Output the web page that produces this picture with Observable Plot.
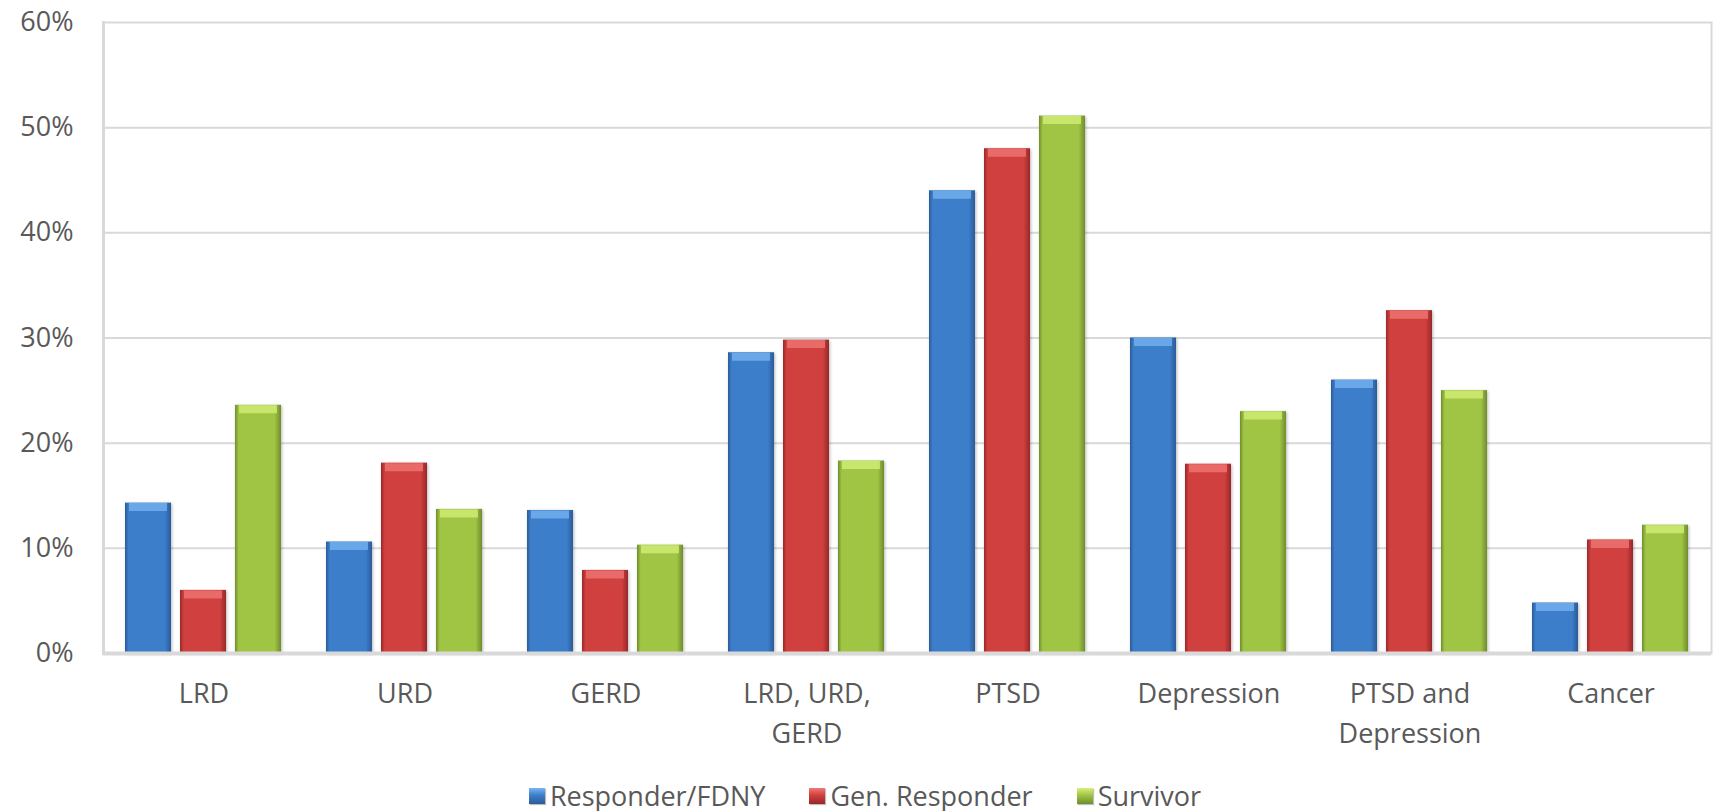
<!DOCTYPE html>
<html>
<head>
<meta charset="utf-8">
<script src="https://cdn.jsdelivr.net/npm/d3@7"></script>
<script src="https://cdn.jsdelivr.net/npm/@observablehq/plot@0.6"></script>
<style>
  html, body { margin: 0; padding: 0; background: #fff; }
  body { width: 1718px; height: 811px; overflow: hidden; font-family: "Open Sans", sans-serif; }
  #chart svg { display: block; }
  #chart svg g[aria-label="bar"] rect { filter: drop-shadow(1.5px 1px 1.5px rgba(0,0,0,0.28)); }
  #legend { display: flex; justify-content: center; align-items: center; gap: 44px; margin-top: 8px; padding-left: 12px;
            font-size: 27px; line-height: 36px; color: #595959; }
  #legend .item { display: flex; align-items: center; gap: 5px; }
  #legend .sw { width: 16px; height: 16px; display: inline-block; box-shadow: 1px 1px 1px rgba(0,0,0,0.25); }
</style>
</head>
<body>
<div id="chart"></div>
<div id="legend"></div>
<script>
// ---- data ----
const categories = ["LRD", "URD", "GERD", "LRD, URD,\nGERD", "PTSD", "Depression", "PTSD and\nDepression", "Cancer"];
const series = ["Responder/FDNY", "Gen. Responder", "Survivor"];
const responderFDNY = [14.3, 10.6, 13.6, 28.6, 44.0, 30.0, 26.0, 4.8];
const genResponder  = [6.0, 18.1, 7.9, 29.8, 48.0, 18.0, 32.6, 10.8];
const survivor      = [23.6, 13.7, 10.3, 18.3, 51.1, 23.0, 25.0, 12.2];
const yTicks = [0, 10, 20, 30, 40, 50, 60];
const seriesValues = [responderFDNY, genResponder, survivor];

const seriesStyle = [
  {id: "gB", edge: "#2b5b98", mid: "#3d7ecb", top: "#79b6f2"},
  {id: "gR", edge: "#982828", mid: "#d0403f", top: "#f27a78"},
  {id: "gG", edge: "#6f8d2b", mid: "#a0c545", top: "#d6f07a"}
];

const rows = [];
series.forEach((s, si) => categories.forEach((c, ci) => rows.push({category: c, series: s, value: seriesValues[si][ci]})));

const grid = "#d9d9d9";
const marks = [
  Plot.ruleY(yTicks.filter(d => d > 0), {stroke: grid, strokeWidth: 2}),
  Plot.frame({anchor: "left", facetAnchor: "left", stroke: grid, strokeWidth: 3}),
  Plot.frame({anchor: "right", facetAnchor: "right", stroke: grid, strokeWidth: 2})
];
series.forEach((s, si) => {
  const data = rows.filter(d => d.series === s);
  marks.push(Plot.barY(data, {fx: "category", x: "series", y: "value", fill: `url(#${seriesStyle[si].id})`}));
  marks.push(Plot.tickY(data, {fx: "category", x: "series", y: "value", stroke: seriesStyle[si].top, strokeWidth: 8, dy: 4, inset: 4, strokeOpacity: 0.75}));
});
marks.push(
  Plot.ruleY([0], {stroke: grid, strokeWidth: 4}),
  Plot.axisY({ticks: yTicks, tickSize: 0, tickPadding: 30, tickFormat: d => d + "%", fontSize: 27, fill: "#595959", label: null}),
  Plot.axisFx({anchor: "bottom", tickSize: 0, tickPadding: 21, fontSize: 27, lineHeight: 1.48, fill: "#595959", label: null})
);

const chart = Plot.plot({
  width: 1718,
  height: 770,
  marginLeft: 100,
  marginRight: 5,
  marginTop: 22,
  marginBottom: 117,
  style: {fontFamily: "Open Sans", color: "#595959", background: "#fff", overflow: "visible"},
  fx: {domain: categories, padding: 0, axis: null, label: null},
  x: {domain: series, paddingInner: 0.16, paddingOuter: 0.38, axis: null},
  y: {domain: [0, 60], axis: null, label: null},
  marks
});

// gradient defs
const ns = "http://www.w3.org/2000/svg";
const defs = document.createElementNS(ns, "defs");
seriesStyle.forEach(st => {
  const g = document.createElementNS(ns, "linearGradient");
  g.setAttribute("id", st.id);
  g.setAttribute("x1", "0"); g.setAttribute("x2", "1"); g.setAttribute("y1", "0"); g.setAttribute("y2", "0");
  [[0, st.edge], [0.08, st.mid], [0.5, st.mid], [0.86, st.mid], [1, st.edge]].forEach(([o, c]) => {
    const s = document.createElementNS(ns, "stop");
    s.setAttribute("offset", o); s.setAttribute("stop-color", c);
    g.appendChild(s);
  });
  defs.appendChild(g);
});
chart.insertBefore(defs, chart.firstChild);
document.getElementById("chart").appendChild(chart);

// legend
const legend = document.getElementById("legend");
series.forEach((s, si) => {
  const st = seriesStyle[si];
  const item = document.createElement("div");
  item.className = "item";
  const sw = document.createElement("span");
  sw.className = "sw";
  sw.style.background = `linear-gradient(to bottom, ${st.top} 0%, ${st.mid} 45%, ${st.edge} 100%)`;
  const t = document.createElement("span");
  t.textContent = s;
  item.appendChild(sw); item.appendChild(t);
  legend.appendChild(item);
});
</script>
</body>
</html>
